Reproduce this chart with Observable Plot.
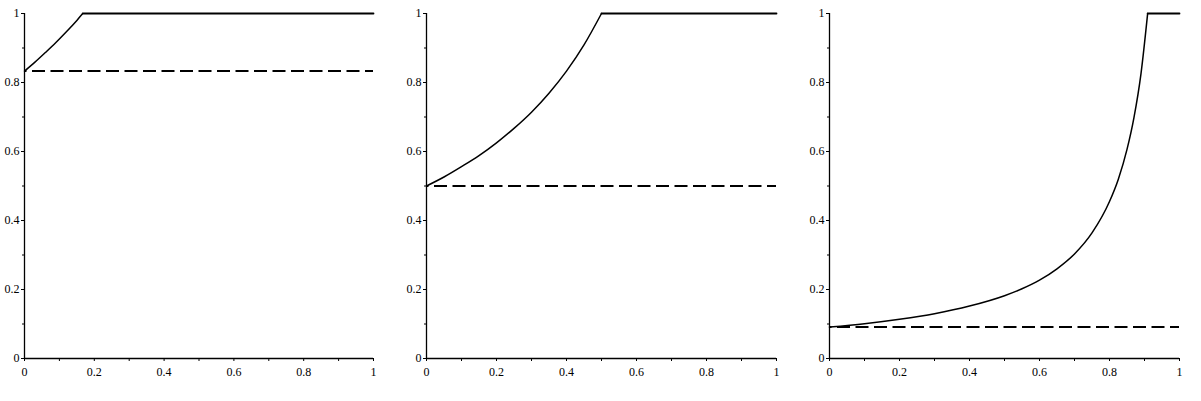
<!DOCTYPE html>
<html>
<head>
<meta charset="utf-8">
<script src="https://cdn.jsdelivr.net/npm/d3@7"></script>
<script src="https://cdn.jsdelivr.net/npm/@observablehq/plot@0.6"></script>
<style>
  html, body { margin: 0; padding: 0; background: #fff; }
  #row { display: flex; flex-direction: row; width: 1201px; height: 401px; }
  #row svg, #row svg text { font-family: "Liberation Serif", "DejaVu Serif", serif !important; }
</style>
</head>
<body>
<div id="row"></div>
<script>
const p1X = [0, 0.03, 0.06, 0.09, 0.12, 0.15, 0.167];
const p1Y = [0.833, 0.859, 0.887, 0.916, 0.947, 0.980, 1.0];
const p1Base = 0.833;

// Panel 2
const p2X = [0, 0.05, 0.1, 0.15, 0.2, 0.25, 0.3, 0.35, 0.4, 0.45, 0.5];
const p2Y = [0.5, 0.526, 0.556, 0.588, 0.625, 0.667, 0.714, 0.769, 0.833, 0.909, 1.0];
const p2Base = 0.5;

// Panel 3
const p3X = [0, 0.1, 0.2, 0.3, 0.4, 0.5, 0.55, 0.6, 0.65, 0.7, 0.75, 0.8, 0.825, 0.85, 0.87, 0.89, 0.909];
const p3Y = [0.091, 0.101, 0.114, 0.130, 0.152, 0.182, 0.202, 0.227, 0.260, 0.303, 0.364, 0.455, 0.519, 0.606, 0.699, 0.826, 1.0];
const p3Base = 0.091;

const majorTicks = [0, 0.2, 0.4, 0.6, 0.8, 1];
const minorTicks = [0.1, 0.3, 0.5, 0.7, 0.9];
const tickLabels = ["0", "0.2", "0.4", "0.6", "0.8", "1"];

const panels = [
  {xs: p1X, ys: p1Y, base: p1Base, width: 401, ml: 24, mr: 28},
  {xs: p2X, ys: p2Y, base: p2Base, width: 401, ml: 25, mr: 26},
  {xs: p3X, ys: p3Y, base: p3Base, width: 399, ml: 27, mr: 22}
];

const fmt = d => tickLabels[majorTicks.indexOf(d)] ?? "";
const FONT = "Liberation Serif";

const row = document.getElementById("row");
for (const p of panels) {
  const rise = p.xs.map((x, i) => ({x, y: p.ys[i]}));
  const flat = [{x: p.xs[p.xs.length - 1], y: 1}, {x: 1, y: 1}];
  const chart = Plot.plot({
    width: p.width,
    height: 401,
    marginLeft: p.ml,
    marginRight: p.mr,
    marginTop: 13,
    marginBottom: 43,
    style: {fontFamily: FONT, fontSize: "12px", color: "#000", background: "#fff"},
    x: {domain: [0, 1]},
    y: {domain: [0, 1]},
    marks: [
      Plot.ruleY([p.base], {stroke: "#000", strokeWidth: 2, strokeDasharray: "13,5.5", strokeDashoffset: -8}),
      Plot.line(rise, {x: "x", y: "y", curve: "monotone-x", stroke: "#000", strokeWidth: 1.5}),
      Plot.line(flat, {x: "x", y: "y", stroke: "#000", strokeWidth: 1.8}),
      Plot.ruleX([0], {stroke: "#000", strokeWidth: 1.3}),
      Plot.ruleY([0], {stroke: "#000", strokeWidth: 1.3}),
      Plot.axisY({ticks: majorTicks, tickSize: 3, tickPadding: 2, tickFormat: fmt, label: null, fill: "#000", fontSize: 12, fontFamily: FONT}),
      Plot.axisY({ticks: minorTicks, tickSize: 2, tickFormat: () => "", label: null}),
      Plot.axisX({ticks: majorTicks, tickSize: 3, tickPadding: 6, tickFormat: fmt, label: null, fill: "#000", fontSize: 12, fontFamily: FONT}),
      Plot.axisX({ticks: minorTicks, tickSize: 3, tickFormat: () => "", label: null})
    ]
  });
  row.appendChild(chart);
}
</script>
</body>
</html>
